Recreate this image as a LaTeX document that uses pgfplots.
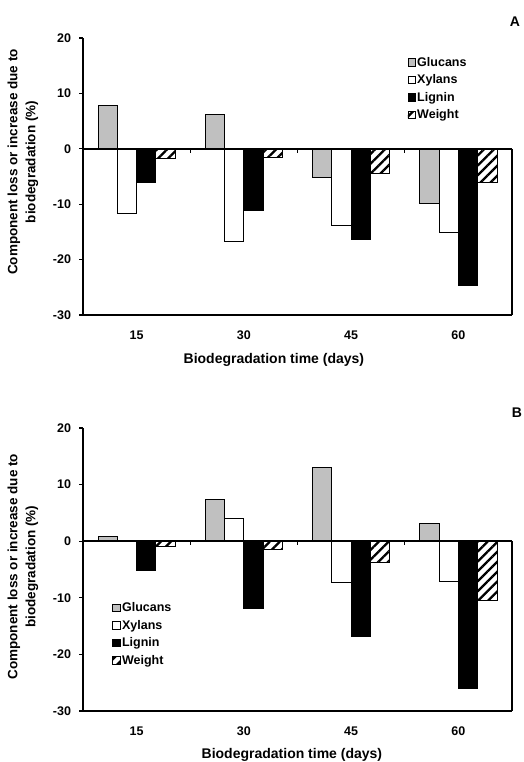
\documentclass[border=0pt]{standalone}
\usepackage{pgfplots}
\pgfplotsset{compat=1.18}
\usepackage{fontspec}
\setmainfont{Liberation Sans}
\usetikzlibrary{patterns.meta}
\definecolor{gluc}{RGB}{192,192,192}
\pgfplotsset{
  panel/.style={
    anchor=south west, scale only axis,
    width=429pt,
    ybar=0pt, bar width=19.3pt,
    xmin=0.5, xmax=4.5, ymin=-30, ymax=20,
    xtick={1,2,3,4}, xticklabels={15,30,45,60},
    ytick={-30,-20,-10,0,10,20},
    axis y line*=left, axis x line*=bottom,
    axis line style={line width=1.6pt, -},
    x tick style={draw=none}, major tick length=3.5pt,
    y tick style={line width=1.2pt, black},
    tick align=outside,
    ticklabel style={font=\fontsize{12.5}{14}\selectfont\bfseries},
    xticklabel style={yshift=-9pt},
    yticklabel style={xshift=-5pt},
    /pgf/number format/assume math mode=true,
    ylabel={Component loss or increase due to\\biodegradation (\%)},
    ylabel style={align=center, font=\fontsize{13.5}{18}\selectfont\bfseries, anchor=south, rotate=0},
    xlabel={Biodegradation time (days)},
    xlabel style={font=\fontsize{14}{16}\selectfont\bfseries, anchor=center},
    legend image code/.code={\draw[##1,draw=black,line width=0.9pt] (0pt,-3.8pt) rectangle (7.6pt,3.8pt);},
    legend style={draw=none, fill=none, font=\fontsize{12.5}{14}\selectfont\bfseries, row sep=4.5pt, inner sep=0pt,
      nodes={inner sep=1.2pt}},
    legend cell align=left,
    every axis plot/.append style={draw=black, line width=0.9pt},
    clip=false,
  },
  gl/.style={fill=gluc},
  xy/.style={fill=white},
  li/.style={fill=black},
  we/.style={fill=white, postaction={pattern={Lines[angle=45,distance=7pt,line width=2.3pt]}, pattern color=black}},
}
\begin{document}
\begin{tikzpicture}
\path[use as bounding box] (0pt,0pt) rectangle (523pt,762pt);
% Panel A
\begin{axis}[panel, at={(83pt,447pt)}, height=277pt,
  ylabel style={at={(axis description cs:-0.096,0.552)}},
  xlabel style={at={(axis description cs:0.445,0)}, yshift=-45pt},
  legend style={at={(axis description cs:0.756,0.935)}, anchor=north west}]
\addplot[gl] coordinates {(1,7.9) (2,6.2) (3,-5.1) (4,-9.8)};
\addplot[xy] coordinates {(1,-11.7) (2,-16.8) (3,-13.8) (4,-15.1)};
\addplot[li] coordinates {(1,-6.1) (2,-11.1) (3,-16.4) (4,-24.6)};
\addplot[we] coordinates {(1,-1.7) (2,-1.5) (3,-4.5) (4,-6.0)};
\legend{Glucans,Xylans,Lignin,Weight}
\draw[line width=1.6pt] (axis cs:0.5,0) -- (axis cs:4.5,0);
\draw[line width=1.6pt] (axis cs:4.5,0) -- (axis cs:4.5,-30);
\draw[line width=1.2pt] (axis cs:1.5,0) -- ([yshift=-4pt]axis cs:1.5,0);
\draw[line width=1.2pt] (axis cs:2.5,0) -- ([yshift=-4pt]axis cs:2.5,0);
\draw[line width=1.2pt] (axis cs:3.5,0) -- ([yshift=-4pt]axis cs:3.5,0);
\end{axis}
\node[font=\fontsize{14}{16}\selectfont\bfseries] at (515pt,740pt) {A};
% Panel B
\begin{axis}[panel, at={(83pt,51pt)}, height=283pt,
  ylabel style={at={(axis description cs:-0.096,0.51)}},
  xlabel style={at={(axis description cs:0.487,0)}, yshift=-44pt},
  legend style={at={(axis description cs:0.068,0.388)}, anchor=north west}]
\addplot[gl] coordinates {(1,0.9) (2,7.4) (3,13.1) (4,3.1)};
\addplot[xy] coordinates {(1,0.2) (2,4.0) (3,-7.2) (4,-7.1)};
\addplot[li] coordinates {(1,-5.1) (2,-11.9) (3,-16.8) (4,-26.1)};
\addplot[we] coordinates {(1,-0.9) (2,-1.5) (3,-3.8) (4,-10.5)};
\legend{Glucans,Xylans,Lignin,Weight}
\draw[line width=1.6pt] (axis cs:0.5,0) -- (axis cs:4.5,0);
\draw[line width=1.6pt] (axis cs:4.5,0) -- (axis cs:4.5,-30);
\draw[line width=1.2pt] (axis cs:1.5,0) -- ([yshift=-4pt]axis cs:1.5,0);
\draw[line width=1.2pt] (axis cs:2.5,0) -- ([yshift=-4pt]axis cs:2.5,0);
\draw[line width=1.2pt] (axis cs:3.5,0) -- ([yshift=-4pt]axis cs:3.5,0);
\end{axis}
\node[font=\fontsize{14}{16}\selectfont\bfseries] at (517pt,349pt) {B};
\end{tikzpicture}
\end{document}
